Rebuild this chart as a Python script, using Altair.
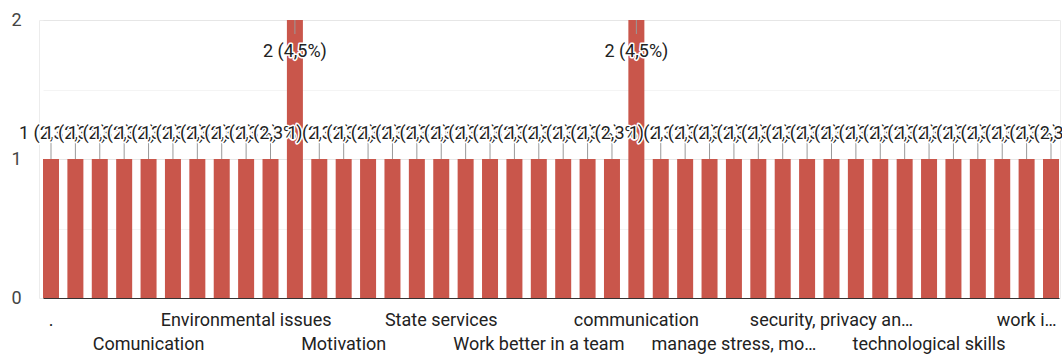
import json

import altair as alt
import pandas as pd

# Answers to the open question, sorted the way the form lists them
categories = [
    ".", "Adaptability", "Collaboration", "Communication skills",
    "Comunication", "Creativity", "Critical thinking", "Digital skills",
    "Environmental issues", "Financial literacy", "Leadership", "Management",
    "Motivation", "Problem solving", "Public speaking", "Responsibility",
    "State services", "Teamwork", "Time management", "Using new technologies",
    "Work better in a team", "Work-life balance", "adaptability", "being organized",
    "communication", "creativity", "digital literacy", "leadership",
    "manage stress, motivation and emotions", "negotiation", "problem solving", "public speaking",
    "security, privacy and data protection", "self-confidence", "soft skills", "teamwork",
    "technological skills", "time management", "using AI tools", "verbal communication",
    "work in international teams", "writing skills",
]

counts = [
    1, 1, 1, 1, 1, 1, 1, 1, 1, 1, 2, 1, 1, 1,
    1, 1, 1, 1, 1, 1, 1, 1, 1, 1, 2, 1, 1, 1,
    1, 1, 1, 1, 1, 1, 1, 1, 1, 1, 1, 1, 1, 1,
]

# Category names as printed under the axis (only every fourth one fits)
axis_text = [
    ".", "", "", "", "Comunication", "", "", "",
    "Environmental issues", "", "", "", "Motivation", "", "", "",
    "State services", "", "", "", "Work better in a team", "", "", "",
    "communication", "", "", "", "manage stress, mo\u2026", "", "", "",
    "security, privacy an\u2026", "", "", "", "technological skills", "", "", "",
    "work i\u2026", "",
]

y_ticks = [0, 0.5, 1, 1.5, 2]

BAR = "#c9564b"
INK = "#222222"
FONT = "Roboto"
SIZE = 18

total = sum(counts)
top = max(counts)


def pct_label(n):
    return f"{n} ({n / total * 100:.1f}%)".replace(".", ",")


df = pd.DataFrame({
    "idx": list(range(len(categories))),
    "category": categories,
    "count": counts,
    "label": [pct_label(n) for n in counts],
})

# Staggered axis text: labelled ticks alternate between the first and second line
tick_lines = []
k = 0
for t in axis_text:
    if t:
        tick_lines.append([t] if k % 2 == 0 else ["", t])
        k += 1
    else:
        tick_lines.append([""])
label_expr = (
    json.dumps(tick_lines, ensure_ascii=False)
    + "[indexof("
    + json.dumps(categories, ensure_ascii=False)
    + ", datum.value)]"
)

x_enc = alt.X(
    "category:N",
    sort=categories,
    scale=alt.Scale(range=[4, 1020], paddingInner=0.344, paddingOuter=0),
    axis=alt.Axis(
        title=None,
        labelAngle=0,
        ticks=False,
        domain=True,
        domainColor="#333333",
        domainWidth=1,
        grid=False,
        labelExpr=label_expr,
        labelFont=FONT,
        labelFontSize=SIZE,
        labelColor=INK,
        labelPadding=13,
        labelLineHeight=24,
        labelLimit=400,
        labelOverlap=False,
    ),
)

y_scale = alt.Scale(domain=[0, 2], nice=False)
y_axis = alt.Axis(
    title=None,
    values=y_ticks,
    labelExpr="datum.value % 1 === 0 ? '' + datum.value : ''",
    ticks=False,
    domain=False,
    grid=True,
    gridColor=alt.condition("datum.value % 1 === 0", alt.value("#e6e6e6"), alt.value("#f4f4f4")),
    labelFont=FONT,
    labelFontSize=SIZE,
    labelColor="#444444",
    labelPadding=18,
)

base = alt.Chart(df)

bars = base.mark_bar(color=BAR).encode(
    x=x_enc,
    y=alt.Y("count:Q", scale=y_scale, axis=y_axis),
)

# Leader stems between each bar top and its annotation
stems_up = base.transform_filter(alt.datum["count"] < top).mark_rule(
    color="#999999", strokeWidth=1, y2Offset=-17
).encode(x=x_enc, y="count:Q", y2="count:Q")
stems_down = base.transform_filter(alt.datum["count"] == top).mark_rule(
    color="#999999", strokeWidth=1, y2Offset=14
).encode(x=x_enc, y="count:Q", y2="count:Q")

layers = [bars, stems_up, stems_down]

# Annotations, each drawn with a white halo, left to right so later ones sit on top
for i, n in enumerate(counts):
    dy = 37 if n == top else -20
    one = base.transform_filter(alt.datum.idx == i)
    halo = one.mark_text(
        dy=dy, font=FONT, fontSize=SIZE, fill="white", stroke="white",
        strokeWidth=3, strokeJoin="round", baseline="alphabetic",
    ).encode(x=x_enc, y="count:Q", text="label:N")
    ink = one.mark_text(
        dy=dy, font=FONT, fontSize=SIZE, fill=INK, baseline="alphabetic",
    ).encode(x=x_enc, y="count:Q", text="label:N")
    layers += [halo, ink]

chart = alt.layer(*layers).properties(
    width=1021,
    height=278,
    autosize=alt.AutoSizeParams(type="none"),
    padding={"left": 39, "top": 20, "right": 2, "bottom": 56},
    background="white",
).configure_view(stroke="#ececec", strokeWidth=1)

chart.save("out.html", embed_options={"renderer": "svg", "actions": False})
